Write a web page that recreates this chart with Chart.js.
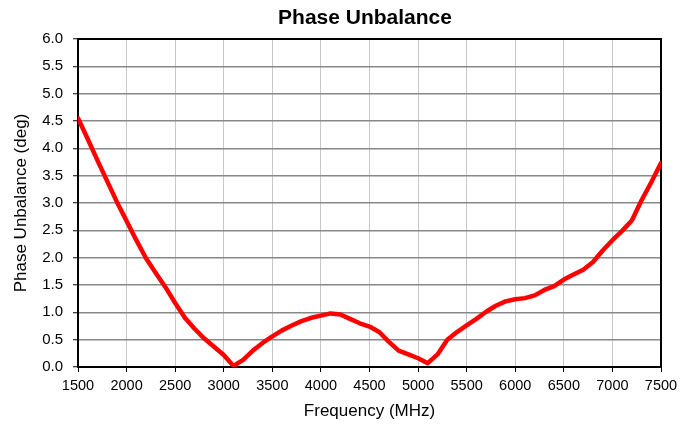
<!DOCTYPE html>
<html>
<head>
<meta charset="utf-8">
<script src="https://cdn.jsdelivr.net/npm/chart.js@4.4.1/dist/chart.umd.min.js"></script>
<style>
  html, body { margin: 0; padding: 0; background: #ffffff; }
  #wrap { width: 694px; height: 426px; }
</style>
</head>
<body>
<div id="wrap"><canvas id="c" width="694" height="426"></canvas></div>
<script>
const chartTitle = "Phase Unbalance";
const xAxisTitle = "Frequency (MHz)";
const yAxisTitle = "Phase Unbalance (deg)";

const frequencies = [
  1500, 1600, 1700, 1800, 1900, 2000, 2100, 2200, 2300, 2400,
  2500, 2600, 2700, 2800, 2900, 3000, 3100, 3200, 3300, 3400,
  3500, 3600, 3700, 3800, 3900, 4000, 4100, 4200, 4300, 4400,
  4500, 4600, 4700, 4800, 4900, 5000, 5100, 5200, 5300, 5400,
  5500, 5600, 5700, 5800, 5900, 6000, 6100, 6200, 6300, 6400,
  6500, 6600, 6700, 6800, 6900, 7000, 7100, 7200, 7300, 7400, 7500
];
const phaseUnbalance = [
  4.55, 4.17, 3.78, 3.40, 3.02, 2.67, 2.32, 1.99, 1.72, 1.46,
  1.17, 0.90, 0.70, 0.52, 0.37, 0.22, 0.02, 0.13, 0.30, 0.44,
  0.56, 0.67, 0.76, 0.84, 0.90, 0.94, 0.98, 0.96, 0.88, 0.80,
  0.74, 0.64, 0.46, 0.30, 0.23, 0.16, 0.07, 0.23, 0.50, 0.64,
  0.76, 0.88, 1.01, 1.12, 1.20, 1.24, 1.26, 1.31, 1.41, 1.48,
  1.60, 1.69, 1.78, 1.92, 2.13, 2.32, 2.49, 2.68, 3.05, 3.38, 3.73
];
const xTickValues = [1500, 2000, 2500, 3000, 3500, 4000, 4500, 5000, 5500, 6000, 6500, 7000, 7500];
const yTickValues = [0, 0.5, 1, 1.5, 2, 2.5, 3, 3.5, 4, 4.5, 5, 5.5, 6];

const FONT = "'Liberation Sans', Arial, Helvetica, sans-serif";

const points = frequencies.map((f, i) => ({ x: f, y: phaseUnbalance[i] }));

const framePlugin = {
  id: 'frame',
  beforeDatasetsDraw(chart) {
    const { ctx, chartArea: a } = chart;
    ctx.save();
    ctx.strokeStyle = '#000000';
    ctx.lineWidth = 2;
    ctx.strokeRect(a.left, a.top, a.right - a.left, a.bottom - a.top);
    ctx.restore();
  },
  afterDraw(chart) {
    const { ctx } = chart;
    ctx.save();
    ctx.fillStyle = '#000000';
    ctx.font = "bold 21px " + FONT;
    ctx.textAlign = 'center';
    ctx.textBaseline = 'alphabetic';
    ctx.fillText(chartTitle, 365, 23.5);
    ctx.restore();
  }
};

new Chart(document.getElementById('c'), {
  type: 'line',
  data: {
    datasets: [{
      data: points,
      borderColor: '#ff0000',
      backgroundColor: '#ff0000',
      borderWidth: 4.5,
      pointRadius: 0,
      tension: 0,
      borderJoinStyle: 'round',
      borderCapStyle: 'round',
      fill: false
    }]
  },
  options: {
    responsive: false,
    animation: false,
    devicePixelRatio: 1,
    layout: { padding: { top: 39, right: 33, left: 0, bottom: 0 } },
    plugins: {
      legend: { display: false },
      tooltip: { enabled: false },
      title: { display: false }
    },
    scales: {
      x: {
        type: 'linear',
        min: 1500,
        max: 7500,
        afterFit(scale) { scale.height = 59; },
        afterBuildTicks(scale) { scale.ticks = xTickValues.map(v => ({ value: v })); },
        ticks: {
          color: '#000000',
          font: { family: FONT, size: 14.5 },
          padding: 5,
          maxRotation: 0,
          autoSkip: false,
          callback: (v) => String(v)
        },
        grid: {
          color: '#c8c8c8',
          lineWidth: 1,
          drawTicks: true,
          tickLength: 5,
          tickColor: '#000000',
          tickWidth: 1
        },
        border: { display: true, color: '#000000', width: 2 },
        title: {
          display: true,
          text: xAxisTitle,
          color: '#000000',
          font: { family: FONT, size: 17 },
          padding: { top: 0, bottom: 4 }
        }
      },
      y: {
        type: 'linear',
        min: 0,
        max: 6,
        afterFit(scale) { scale.width = 78; },
        afterBuildTicks(scale) { scale.ticks = yTickValues.map(v => ({ value: v })); },
        ticks: {
          color: '#000000',
          font: { family: FONT, size: 15 },
          padding: 10,
          autoSkip: false,
          callback: (v) => Number(v).toFixed(1)
        },
        grid: {
          color: '#888888',
          lineWidth: 1.5,
          drawTicks: true,
          tickLength: 5,
          tickColor: '#000000',
          tickWidth: 1
        },
        border: { display: true, color: '#000000', width: 2 },
        title: {
          display: true,
          text: yAxisTitle,
          color: '#000000',
          font: { family: FONT, size: 17 },
          padding: { top: 11, bottom: 0 }
        }
      }
    }
  },
  plugins: [framePlugin]
});
</script>
</body>
</html>
